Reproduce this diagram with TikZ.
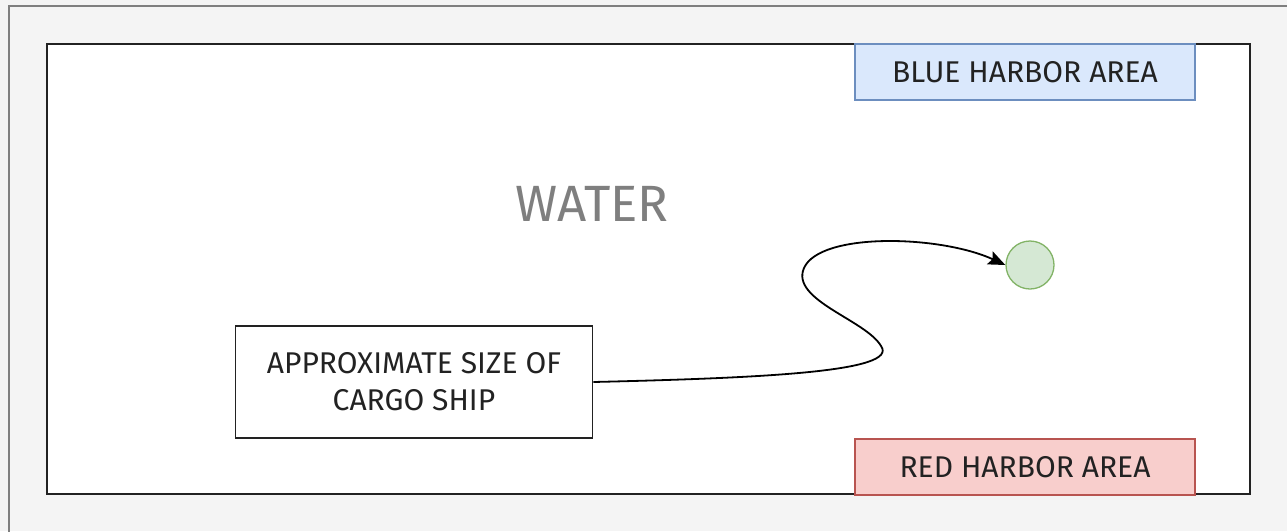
\documentclass[tikz,border=0pt]{standalone}
\usepackage{fontspec}
\setmainfont{Fira Sans}
\usetikzlibrary{arrows.meta}
\definecolor{pagebg}{HTML}{F4F4F4}
\definecolor{framegray}{HTML}{7F7F7F}
\definecolor{bluefill}{HTML}{DAE8FC}
\definecolor{bluedraw}{HTML}{6C8EBF}
\definecolor{redfill}{HTML}{F8CECC}
\definecolor{reddraw}{HTML}{B85450}
\definecolor{greenfill}{HTML}{D5E8D4}
\definecolor{greendraw}{HTML}{82B366}
\definecolor{inkdark}{HTML}{222222}
\tikzset{
  area/.style={draw, line width=1.3pt, minimum width=340pt, minimum height=56pt,
    inner sep=0pt, font=\fontsize{30}{36}\selectfont, text=inkdark},
  labelbox/.style={draw=inkdark, fill=white, line width=1.8pt, minimum width=357pt,
    minimum height=112pt, inner sep=0pt, align=center,
    font=\fontsize{30}{37}\selectfont, text=inkdark},
  marker/.style={circle, draw=greendraw, fill=greenfill, line width=1.3pt,
    minimum size=48pt, inner sep=0pt},
  route/.style={draw=black, line width=1.8pt, -{Stealth[length=17pt,width=14pt,inset=3pt]}}
}
\begin{document}
\begin{tikzpicture}[x=1pt,y=-1pt]
  \useasboundingbox (0,0) rectangle (1287,531);
  \clip (0,0) rectangle (1287,531);
  % page background and frame
  \fill[pagebg] (0,0) rectangle (1287,531);
  \draw[framegray, line width=2pt] (9,6) rectangle (1320,560);
  % water region
  \draw[inkdark, fill=white, line width=2pt] (47,44) rectangle (1250,494);
  \node[text=framegray, font=\fontsize{51}{60}\selectfont] (water) at (592,204) {WATER};
  % harbor areas
  \node[area, draw=bluedraw, fill=bluefill] (blue) at (1025,72) {BLUE HARBOR AREA};
  \node[area, draw=reddraw, fill=redfill] (red) at (1025,467) {RED HARBOR AREA};
  % ship size label and target marker
  \node[labelbox] (ship) at (414,382) {APPROXIMATE SIZE OF\\CARGO SHIP};
  \node[marker] (dot) at (1030,265) {};
  % winding route from the ship to the marker
  \coordinate (bend1) at (881,346);
  \coordinate (bend2) at (804,268);
  \draw[route] (ship.east)
    .. controls (760,378) and (900,372) .. (bend1)
    .. controls (866,320) and (790,300) .. (bend2)
    .. controls (820,232) and (940,235) .. (dot.west);
\end{tikzpicture}
\end{document}
